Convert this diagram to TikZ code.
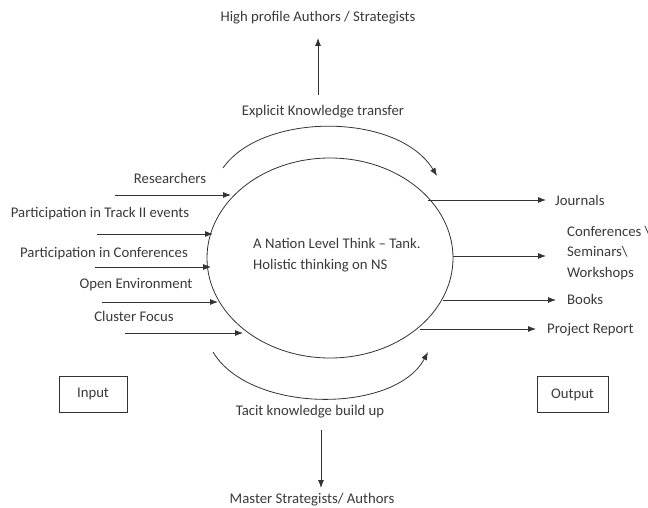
\documentclass[tikz,border=0pt]{standalone}
\usepackage{fontspec}
\setmainfont{Carlito}
\usetikzlibrary{shapes.geometric,arrows.meta}
\definecolor{ink}{HTML}{333333}
\definecolor{txt}{HTML}{3A3A3A}
\begin{document}
\begin{tikzpicture}[x=1bp,y=-1bp,
  lbl/.style={inner sep=0pt,text=txt,font=\fontsize{14.8}{20.5}\selectfont},
  conn/.style={draw=ink,line width=0.8bp,-{Latex[length=8bp,width=6bp]}},
  plainline/.style={draw=ink,line width=0.8bp},
  boxed/.style={draw=ink,line width=1bp,minimum width=68bp,minimum height=36bp,inner sep=0pt,text=txt,font=\fontsize{14.8}{16}\selectfont}]
\useasboundingbox[fill=white] (0,0) rectangle (648,508);
% central ellipse
\node[ellipse,plainline,minimum width=246bp,minimum height=200bp,inner sep=0pt] (core) at (330,258) {};
\node[lbl,align=left,anchor=west] (coretext) at (253,255) {A Nation Level Think -- Tank.\\Holistic thinking on NS};
% top
\node[lbl] (explicit) at (323,112) {Explicit Knowledge transfer};
\node[lbl] (high) at (318,18) {High profile Authors / Strategists};
\coordinate (upstart) at (318,95);
\coordinate (upend) at (318,38);
\draw[conn] (upstart) -- (upend);
\coordinate (ea) at (223,168);
\coordinate (eb) at (437,176);
\draw[conn] (ea) .. controls (262,112) and (398,112) .. (eb);
% bottom
\node[lbl] (tacit) at (310,412) {Tacit knowledge build up};
\node[lbl] (master) at (312,500) {Master Strategists/ Authors};
\coordinate (dnstart) at (321,430);
\coordinate (dnend) at (321,488);
\draw[conn] (dnstart) -- (dnend);
\coordinate (ta) at (213,352);
\coordinate (tb) at (428,352);
\draw[conn] (ta) .. controls (250,414) and (395,414) .. (tb);
% inputs
\node[lbl] (r) at (170,178) {Researchers};
\node[lbl] (t2) at (100,214) {Participation in Track II events};
\node[lbl] (pc) at (104,254) {Participation in Conferences};
\node[lbl] (oe) at (136,285) {Open Environment};
\node[lbl] (cf) at (134,316) {Cluster Focus};
\coordinate (i1s) at (115,195); \coordinate (i1e) at (231,195);
\coordinate (i2s) at (97,234);  \coordinate (i2e) at (213,234);
\coordinate (i3s) at (95,267);  \coordinate (i3e) at (211,267);
\coordinate (i4s) at (102,302); \coordinate (i4e) at (218,302);
\coordinate (i5s) at (125,333); \coordinate (i5e) at (243,333);
\draw[conn] (i1s) -- (i1e);
\draw[conn] (i2s) -- (i2e);
\draw[conn] (i3s) -- (i3e);
\draw[conn] (i4s) -- (i4e);
\draw[conn] (i5s) -- (i5e);
% outputs
\node[lbl,anchor=west] (jr) at (555,200) {Journals};
\node[lbl,anchor=west,align=left] (cs) at (567,253) {Conferences \textbackslash\\Seminars\textbackslash\\Workshops};
\node[lbl,anchor=west] (bk) at (567,299) {Books};
\node[lbl,anchor=west] (pr) at (547,330) {Project Report};
\coordinate (o1s) at (428,200); \coordinate (o1e) at (546,200);
\coordinate (o2s) at (453,256); \coordinate (o2e) at (546,256);
\coordinate (o3s) at (443,300); \coordinate (o3e) at (556,300);
\coordinate (o4s) at (420,329); \coordinate (o4e) at (536,329);
\draw[conn] (o1s) -- (o1e);
\draw[conn] (o2s) -- (o2e);
\draw[conn] (o3s) -- (o3e);
\draw[conn] (o4s) -- (o4e);
% boxes
\node[boxed] (input) at (93,394) {Input};
\node[boxed,minimum width=71bp] (output) at (572.5,394.5) {Output};
\end{tikzpicture}
\end{document}
